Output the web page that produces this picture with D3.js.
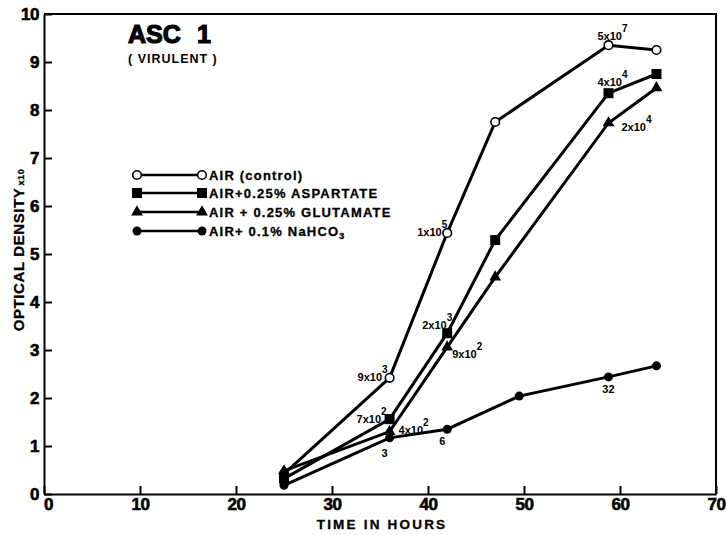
<!DOCTYPE html>
<html>
<head>
<meta charset="utf-8">
<script src="https://cdn.jsdelivr.net/npm/d3@7"></script>
<style>
  body { margin: 0; background: #fff; }
  svg { display: block; }
  text { font-family: 'Liberation Sans', Arial, sans-serif; font-weight: bold; fill: #000; }
</style>
</head>
<body>
<div id="chart"></div>
<script>
// data
const hours = [25, 36, 42, 47, 58.8, 63.8]
const hoursNaHCO3 = [25, 36, 42, 49.5, 58.8, 63.8]
const control = [0.42, 2.42, 5.44, 7.75, 9.35, 9.25]
const aspartate = [0.32, 1.56, 3.35, 5.29, 8.35, 8.75]
const glutamate = [0.48, 1.3, 3.06, 4.52, 7.73, 8.46]
const nahco3 = [0.18, 1.17, 1.35, 2.04, 2.44, 2.67]

const xTicks = [0, 10, 20, 30, 40, 50, 60, 70]
const yTicks = [0, 1, 2, 3, 4, 5, 6, 7, 8, 9, 10]

const legendLabels = ['AIR (control)', 'AIR+0.25% ASPARTATE', 'AIR + 0.25% GLUTAMATE', 'AIR+ 0.1% NaHCO']

// viable count notes next to points: [series, point index, text, superscript]
const notes = [
  ['control', 1, '9x10', '3'],
  ['control', 2, '1x10', '5'],
  ['control', 4, '5x10', '7'],
  ['aspartate', 1, '7x10', '2'],
  ['aspartate', 2, '2x10', '3'],
  ['aspartate', 4, '4x10', '4'],
  ['glutamate', 1, '4x10', '2'],
  ['glutamate', 2, '9x10', '2'],
  ['glutamate', 4, '2x10', '4'],
  ['nahco3', 1, '3', ''],
  ['nahco3', 2, '6', ''],
  ['nahco3', 4, '32', '']
]

const margin = { top: 14, left: 44, right: 11, bottom: 41 }
const width = 727 - margin.left - margin.right
const height = 535 - margin.top - margin.bottom

const svg = d3
  .select('#chart')
  .append('svg')
  .attr('width', 727)
  .attr('height', 535)
  .append('g')
  .attr('transform', 'translate(' + margin.left + ',' + margin.top + ')')

const xPositionScale = d3.scaleLinear().domain([0, 70]).range([0, width])
const yPositionScale = d3.scaleLinear().domain([0, 10]).range([height, 0])

const series = [
  { key: 'control', hours: hours, values: control },
  { key: 'aspartate', hours: hours, values: aspartate },
  { key: 'glutamate', hours: hours, values: glutamate },
  { key: 'nahco3', hours: hoursNaHCO3, values: nahco3 }
]

// frame
svg
  .append('path')
  .attr('d', 'M0,0H' + width + 'V' + height)
  .attr('fill', 'none')
  .attr('stroke', '#000')
  .attr('stroke-width', 2)

// axes
const xAxis = d3
  .axisBottom(xPositionScale)
  .tickValues(xTicks)
  .tickSizeInner(-8)
  .tickSizeOuter(0)
  .tickPadding(4)
const yAxis = d3
  .axisLeft(yPositionScale)
  .tickValues(yTicks)
  .tickSizeInner(-8)
  .tickSizeOuter(0)
  .tickPadding(5)

const gx = svg
  .append('g')
  .attr('transform', 'translate(0,' + height + ')')
  .call(xAxis)
const gy = svg.append('g').call(yAxis)

;[gx, gy].forEach(g => {
  g.select('.domain').attr('stroke-width', 2)
  g.selectAll('.tick line').attr('stroke-width', 2)
  g.selectAll('.tick text')
    .attr('font-family', "'Liberation Sans', Arial, sans-serif")
    .attr('font-size', 17)
    .attr('font-weight', 'bold')
    .attr('letter-spacing', -0.5)
    .attr('stroke', '#000')
    .attr('stroke-width', 0.6)
})
gx.selectAll('.tick text').attr('dx', d => (d === 0 ? 4 : 0))

// axis titles
svg
  .append('text')
  .attr('x', 382 - margin.left)
  .attr('y', height + 35)
  .attr('text-anchor', 'middle')
  .attr('font-size', 13.5)
  .attr('letter-spacing', 2.2)
  .attr('stroke', '#000')
  .attr('stroke-width', 0.3)
  .text('TIME IN HOURS')

const yTitle = svg
  .append('text')
  .attr('transform', 'translate(' + (24 - margin.left) + ',' + (250 - margin.top) + ') rotate(-90)')
  .attr('text-anchor', 'middle')
  .attr('font-size', 15)
  .attr('letter-spacing', 0.6)
  .attr('stroke', '#000')
  .attr('stroke-width', 0.3)
yTitle.append('tspan').text('OPTICAL DENSITY')
yTitle.append('tspan').attr('font-size', 9).attr('dx', 2).text('x10')

// title
const titleStyle = t =>
  t
    .attr('y', 43 - margin.top)
    .attr('font-size', 25)
    .attr('font-weight', 900)
    .attr('stroke', '#000')
    .attr('stroke-width', 1.2)
titleStyle(svg.append('text').attr('x', 128 - margin.left).text('ASC'))
titleStyle(svg.append('text').attr('x', 197 - margin.left).text('1'))
svg
  .append('text')
  .attr('x', 128 - margin.left)
  .attr('y', 63 - margin.top)
  .attr('font-size', 12.5)
  .attr('letter-spacing', 1)
  .text('( VIRULENT )')

// markers
function drawMarker(g, key, x, y) {
  if (key === 'control') {
    g.append('circle')
      .attr('cx', x)
      .attr('cy', y)
      .attr('r', 4.3)
      .attr('fill', '#fff')
      .attr('stroke', '#000')
      .attr('stroke-width', 1.6)
  } else if (key === 'aspartate') {
    g.append('rect')
      .attr('x', x - 5)
      .attr('y', y - 5)
      .attr('width', 10)
      .attr('height', 10)
      .attr('fill', '#000')
  } else if (key === 'glutamate') {
    g.append('path')
      .attr('d', d3.symbol(d3.symbolTriangle, 60)())
      .attr('transform', 'translate(' + x + ',' + y + ')')
      .attr('fill', '#000')
  } else {
    g.append('circle')
      .attr('cx', x)
      .attr('cy', y)
      .attr('r', 4.5)
      .attr('fill', '#000')
  }
}

const line = d3
  .line()
  .x(d => xPositionScale(d[0]))
  .y(d => yPositionScale(d[1]))

series.forEach(s => {
  const pts = s.hours.map((h, i) => [h, s.values[i]])
  svg
    .append('path')
    .datum(pts)
    .attr('d', line)
    .attr('fill', 'none')
    .attr('stroke', '#000')
    .attr('stroke-width', 3)
})
series.forEach(s => {
  const g = svg.append('g')
  s.hours.forEach((h, i) => {
    drawMarker(g, s.key, xPositionScale(h), yPositionScale(s.values[i]))
  })
})

// notes
const noteOffsets = {
  'control-1': [-32, 3],
  'control-2': [-30, 3],
  'control-4': [-11, -5],
  'aspartate-1': [-33, 4],
  'aspartate-2': [-25, -4],
  'aspartate-4': [-11, -7],
  'glutamate-1': [9, 2],
  'glutamate-2': [5, 11],
  'glutamate-4': [13, 8],
  'nahco3-1': [-5, 19],
  'nahco3-2': [-5, 16],
  'nahco3-4': [0, 16]
}
notes.forEach(n => {
  const s = series.find(d => d.key === n[0])
  const off = noteOffsets[n[0] + '-' + n[1]]
  const t = svg
    .append('text')
    .attr('x', xPositionScale(s.hours[n[1]]) + off[0])
    .attr('y', yPositionScale(s.values[n[1]]) + off[1])
    .attr('font-size', 11)
    .attr('text-anchor', n[3] ? 'start' : 'middle')
  t.append('tspan').text(n[2])
  if (n[3]) {
    t.append('tspan').attr('font-size', 10).attr('dy', -8).attr('dx', 0).text(n[3])
  }
})

// legend
const legendKeys = ['control', 'aspartate', 'glutamate', 'nahco3']
const legendY = [175, 193, 212, 231]
legendKeys.forEach((k, i) => {
  const g = svg.append('g').attr('transform', 'translate(' + (-margin.left) + ',' + (legendY[i] - margin.top) + ')')
  g.append('line')
    .attr('x1', 137)
    .attr('x2', 202)
    .attr('stroke', '#000')
    .attr('stroke-width', 2.5)
  drawMarker(g, k, 137, 0)
  drawMarker(g, k, 202, 0)
  const t = g
    .append('text')
    .attr('x', 209)
    .attr('y', 4.5)
    .attr('font-size', 13)
    .attr('letter-spacing', 1.2)
    .attr('stroke', '#000')
    .attr('stroke-width', 0.3)
    .text(legendLabels[i])
  if (k === 'nahco3') {
    t.append('tspan').attr('font-size', 9).attr('dy', 3).text('3')
  }
})
</script>
</body>
</html>
